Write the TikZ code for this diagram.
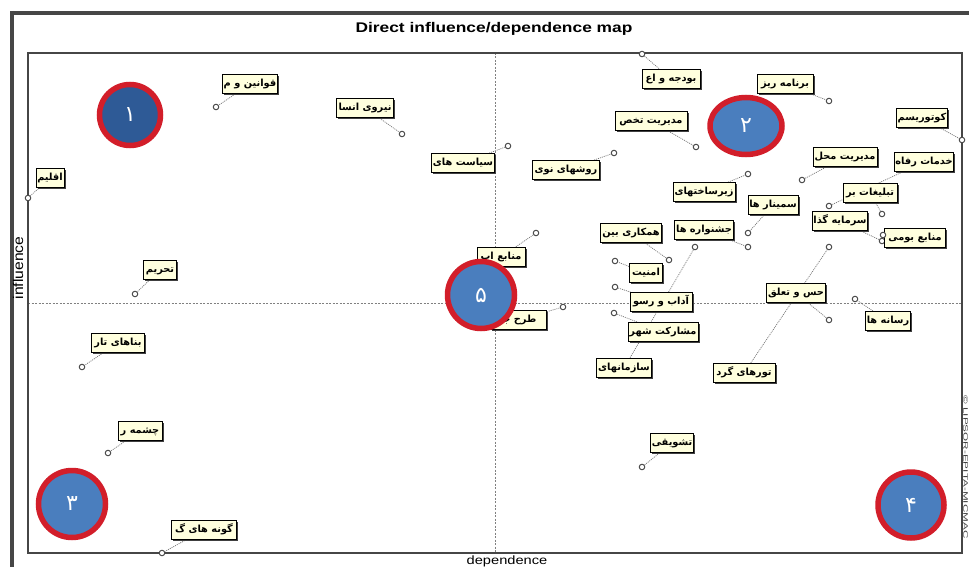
\documentclass[tikz,border=0pt]{standalone}
\usepackage{fontspec}
\setmainfont{Liberation Sans}
\newfontfamily\arabicfont[Script=Arabic]{DejaVu Sans}
\TeXXeTstate=1
\usetikzlibrary{shapes.geometric,shadows}
\definecolor{boxfill}{RGB}{255,255,222}
\definecolor{bubblue}{RGB}{74,126,190}
\definecolor{bubdark}{RGB}{46,90,150}
\definecolor{bubred}{RGB}{210,30,42}
\definecolor{framegray}{RGB}{70,70,70}
\pgfdeclarelayer{bg}
\pgfdeclarelayer{conn}
\pgfsetlayers{bg,conn,main}
\newcommand\mylab[7]{%
  \node[lab, minimum width=#4pt] (#1) at (#2,#3) {#5};
  \node[ptmark] (#1p) at (#6,#7) {};
  \begin{pgfonlayer}{conn}\draw[connline] (#1.center) -- (#1p);\end{pgfonlayer}%
}
\begin{document}
\begin{tikzpicture}[x=1pt,y=-1pt,
  lab/.style={draw=black, line width=0.8pt, fill=boxfill, minimum height=19pt,
    inner xsep=1.2pt, inner ysep=0pt, text height=7pt, text depth=2pt,
    font=\arabicfont\bfseries\fontsize{9.8}{11}\selectfont,
    drop shadow={shadow xshift=1.6pt, shadow yshift=-1.6pt, fill=black!75, opacity=1}},
  ptmark/.style={circle, draw=black!70, fill=white, line width=1pt, minimum size=5.5pt, inner sep=0pt},
  connline/.style={draw=black!55, line width=0.7pt, dash pattern=on 1pt off 1pt},
  axisdash/.style={draw=black!50, line width=0.8pt, dash pattern=on 2pt off 1.5pt},
  bubble/.style={circle, draw=bubred, line width=5.5pt, fill=bubblue, text=white,
    font=\arabicfont\fontsize{22}{23}\selectfont, inner sep=0pt},
]
% background and bounding box
\begin{pgfonlayer}{bg}
\fill[white] (0,0) rectangle (969,567);
\end{pgfonlayer}
\useasboundingbox (0,0) rectangle (969,567);

% outer frame
\draw[framegray, line width=4pt] (10,13) -- (969,13);
\draw[framegray, line width=4pt] (12,11) -- (12,567);
% inner plot frame
\draw[framegray, line width=1.6pt] (28,53) rectangle (962,553);

% axes
\begin{pgfonlayer}{conn}
\coordinate (vtop) at (495,53);
\coordinate (vbot) at (495,553);
\coordinate (hleft) at (28,303);
\coordinate (hright) at (962,303);
\draw[axisdash] (vtop) -- (vbot);
\draw[axisdash] (hleft) -- (hright);
\end{pgfonlayer}

% titles
\node (title) at (494,29) {\bfseries\fontsize{14}{16}\selectfont\scalebox{1.24}[1]{Direct influence/dependence map}};
\node[inner sep=0pt] (xlab) at (507,561) {\fontsize{12}{13}\selectfont\scalebox{1.22}[1]{dependence}};
\node[inner sep=0pt, rotate=90] (ylab) at (18,268) {\fontsize{14}{15}\selectfont\scalebox{1.12}[1]{influence}};
\node[inner sep=0pt, rotate=-90, text=black!75] (copy) at (965.5,467) {\fontsize{6.5}{7}\selectfont\scalebox{1.8}[1]{© LIPSOR-EPITA-MICMAC}};

% labels
\mylab{qavanin}{250}{84}{54}{\beginR قوانین و م\endR}{216}{107}
\mylab{eqlim}{50}{178}{25}{\beginR اقلیم\endR}{28}{198}
\mylab{niru}{365}{108}{57}{\beginR نیروی انسا\endR}{402}{134}
\mylab{siasat}{463}{163}{61}{\beginR سیاست های\endR}{508}{146}
\mylab{ravesh}{566}{170}{67}{\beginR روشهای نوی\endR}{614}{153}
\mylab{budje}{671}{79}{58}{\beginR بودجه و اع\endR}{642}{54}
\mylab{barname}{785}{84}{56}{\beginR برنامه ریز\endR}{829}{101}
\mylab{modtakh}{651}{121}{72}{\beginR مدیریت تخص\endR}{696}{147}
\mylab{ecotour}{922}{118}{51}{\beginR کوتوریسم\endR}{962}{140}
\mylab{khadamat}{924}{162}{59}{\beginR خدمات رفاه\endR}{829}{206}
\mylab{modmahal}{845}{157}{64}{\beginR مدیریت محل\endR}{802}{180}
\mylab{zirsakht}{704}{192}{62}{\beginR زیرساختهای\endR}{748}{174}
\mylab{tablighat}{870}{193}{54}{\beginR تبلیغات بر\endR}{882}{214}
\mylab{seminar}{773}{205}{47}{\beginR سمینار ها\endR}{748}{233}
\mylab{sarmaye}{840}{221}{54}{\beginR سرمایه گذا\endR}{882}{241}
\mylab{manabebumi}{915}{238}{61}{\beginR منابع بومی\endR}{883}{235}
\mylab{jashnvare}{704}{230}{58}{\beginR جشنواره ها\endR}{748}{247}
\mylab{hamkari}{631}{233}{61}{\beginR همکاری بین\endR}{669}{260}
\mylab{amniat}{646}{273}{33}{\beginR امنیت\endR}{615}{261}
\mylab{adab}{661}{302}{62}{\beginR آداب و رسو\endR}{615}{287}
\mylab{mosharekat}{663}{332}{70}{\beginR مشارکت شهر\endR}{614}{313}
\mylab{sazman}{624}{368}{55}{\beginR سازمانهای\endR}{695}{247}
\mylab{tour}{744}{373}{62}{\beginR تورهای گرد\endR}{829}{247}
\mylab{hes}{796}{293}{57}{\beginR حس و تعلق\endR}{829}{320}
\mylab{resane}{888}{321}{45}{\beginR رسانه ها\endR}{855}{299}
\mylab{manabeab}{501}{257}{48}{\beginR منابع اب\endR}{536}{233}
\mylab{tarh}{518}{320}{56}{\beginR طرح جا\endR}{563}{307}
\mylab{tahrim}{160}{270}{33}{\beginR تحریم\endR}{135}{294}
\mylab{banaha}{118}{343}{53}{\beginR بناهای تار\endR}{82}{367}
\mylab{cheshme}{140}{431}{44}{\beginR چشمه ر\endR}{108}{453}
\mylab{gune}{204}{530}{65}{\beginR گونه های گ\endR}{162}{553}
\mylab{tashvighi}{672}{443}{38}{\beginR تشویقی\endR}{642}{467}

% numbered bubbles
\node[bubble, fill=bubdark, minimum size=61pt] (c1) at (130,115) {۱};
\node[bubble, ellipse, minimum width=72pt, minimum height=57pt] (c2) at (746,126) {۲};
\node[bubble, minimum size=67pt] (c3) at (72,504) {۳};
\node[bubble, minimum size=66pt] (c4) at (911,505) {۴};
\node[bubble, minimum size=67pt] (c5) at (481,295) {۵};
\end{tikzpicture}
\end{document}
